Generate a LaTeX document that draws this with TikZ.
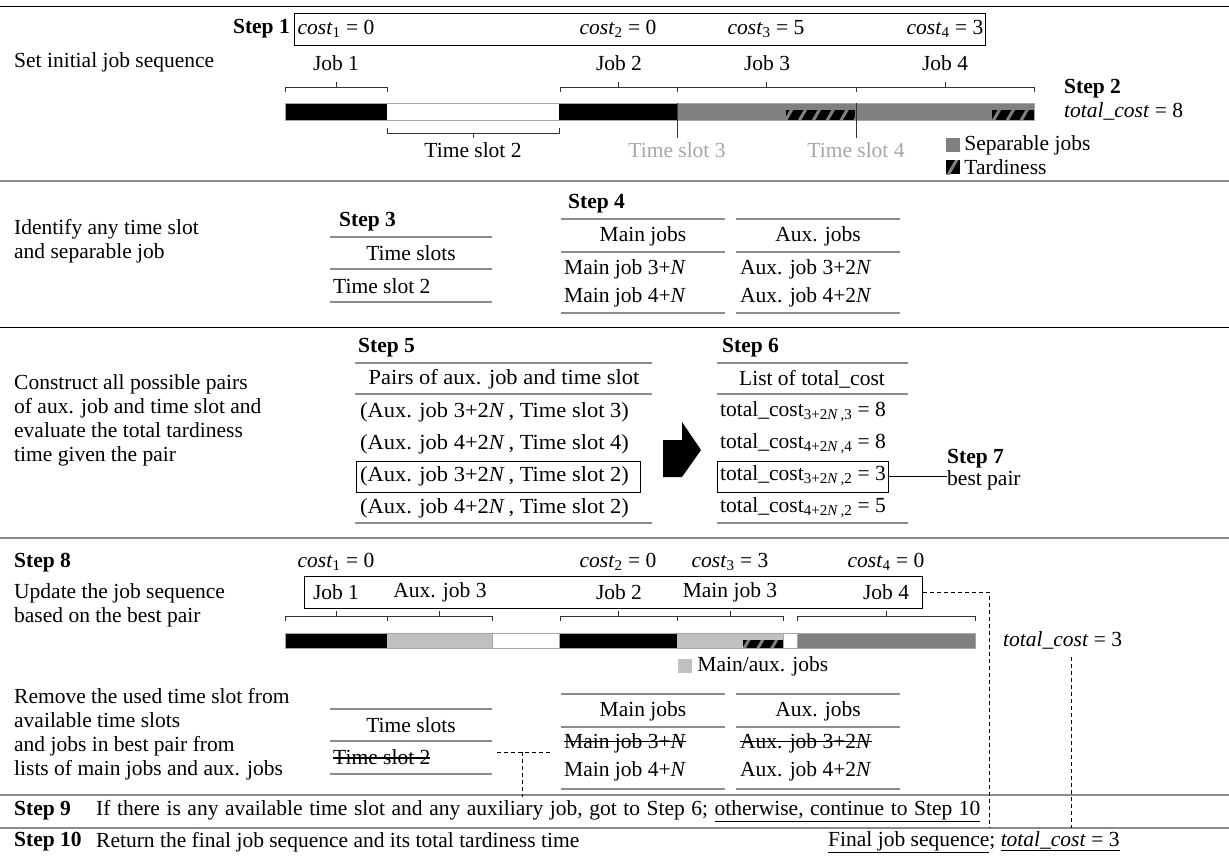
\documentclass[tikz,border=0pt]{standalone}
\usepackage{fontspec}
\setmainfont{Liberation Serif}
\newfontfamily\widefont[FakeStretch=1.045]{Liberation Serif}
\usetikzlibrary{positioning,patterns.meta}

\definecolor{sepgray}{HTML}{808080}
\definecolor{auxgray}{HTML}{C0C0C0}
\definecolor{slotgray}{HTML}{A6A6A6}
\definecolor{rulegray}{HTML}{8C8C8C}

\newcommand{\figsize}{\fontsize{21.5}{24}\selectfont}
\newsavebox{\struckbox}
\newcommand{\struck}[1]{\sbox{\struckbox}{#1}\rlap{#1}\rule[0.27em]{\wd\struckbox}{1.5pt}}

\tikzset{
  txt/.style={anchor=west, inner sep=0pt},
  lbl/.style={inner sep=0pt},
  widetxt/.style={inner sep=0pt, font=\figsize\widefont},
  steplbl/.style={anchor=west, inner sep=0pt, font=\figsize\bfseries},
  tabrule/.style={draw=rulegray, line width=1.6pt},
  seprule/.style={draw=rulegray, line width=1.6pt},
  seg/.style={draw=gray!70, line width=0.6pt},
  hatch/.style={preaction={fill=black}, pattern={Lines[angle=60,distance=12pt,line width=3pt]}, pattern color=sepgray},
  linkline/.style={dash pattern=on 4pt off 3pt, line width=0.8pt},
  jobbox/.style={draw, line width=0.8pt, inner sep=0pt},
}

\begin{document}
\begin{tikzpicture}[x=1pt, y=-1pt, font=\figsize, >=stealth]
\useasboundingbox (0,0) rectangle (1229,857);

\draw[line width=0.8pt] (0,6) -- (1229,6);
\draw[line width=0.8pt] (0,327) -- (1229,327);
\foreach \y in {181,538,795,828} \draw[seprule] (0,\y) -- (1229,\y);

\node[txt] (init) at (14,62) {Set initial job sequence};
\node[steplbl, anchor=east] (step1) at (290,29) {Step 1};
\node[jobbox, anchor=north west, minimum width=691pt, minimum height=32pt] (seq1) at (294,13) {};
\foreach \n/\x/\v in {1/336/0,2/618/0,3/766/5,4/945/3}
  \node[lbl] (cost\n) at (\x,29) {\textit{cost}\textsubscript{\n} = \v};
\foreach \n/\x in {1/336,2/619,3/767,4/945}
  \node[lbl] (job\n) at (\x,63) {Job \n};
\foreach \a/\b in {285/387,560/677,677/856,856/1034}
  \draw[gray!40!black] (\a,92) -- (\a,87) -- (\b,87) -- (\b,92) ({(\a+\b)/2},87) -- ({(\a+\b)/2},82);
\foreach \a/\b/\c in {285/387/black,387/559/white,559/677/black,677/1034/sepgray}
  \fill[\c] (\a,103) rectangle (\b,120);
\fill[hatch] (786,110) rectangle (855,120);
\fill[hatch] (992,110) rectangle (1034,120);
\draw[seg] (285,103) rectangle (1034,120);
\draw[gray!40!black] (677,103) -- (677,138) (856,103) -- (856,138);
\draw[gray!40!black] (387,128) -- (387,133) -- (559,133) -- (559,128) (473,133) -- (473,138);
\node[lbl] (slot2) at (473,150) {Time slot 2};
\node[lbl, text=slotgray] (slot3) at (677,150) {Time slot 3};
\node[lbl, text=slotgray] (slot4) at (856,150) {Time slot 4};
\node[fill=sepgray, minimum size=14pt, inner sep=0pt] (legsep) at (953,145) {};
\node[txt, right=4pt of legsep] (legseptxt) {Separable jobs};
\node[hatch, minimum size=14pt, inner sep=0pt] (legtard) at (953,167) {};
\node[txt, right=4pt of legtard] (legtardtxt) {Tardiness};
\node[steplbl] (step2) at (1064,89) {Step 2};
\node[txt] (total8) at (1064,111) {\textit{total\_cost} = 8};

\node[txt, align=left] (ident) at (14,241) {Identify any time slot\\and separable job};
\node[steplbl] (step3) at (339,222) {Step 3};
\foreach \y in {237,269,302} \draw[tabrule] (330,\y) -- (492,\y);
\node[lbl] (slots) at (411,253) {Time slots};
\node[txt] (freeslot) at (333,286) {Time slot 2};
\node[steplbl] (step4) at (568,204) {Step 4};
\foreach \y in {219,252,313} {
  \draw[tabrule] (561,\y) -- (725,\y);
  \draw[tabrule] (736,\y) -- (900,\y);
}
\node[lbl] (mainhead) at (643,236) {Main jobs};
\node[lbl] (auxhead) at (818,236) {Aux. jobs};
\foreach \n/\y in {3/269,4/297} {
  \node[txt] (main\n) at (564,\y) {Main job \n+\textit{N}};
  \node[txt] (aux\n) at (740,\y) {Aux. job \n+2\textit{N}};
}

\node[txt, align=left] (constr) at (14,420) {Construct all possible pairs\\of aux. job and time slot and\\evaluate the total tardiness\\time given the pair};
\node[steplbl] (step5) at (358,348) {Step 5};
\foreach \y in {363,394,523} \draw[tabrule] (355,\y) -- (652,\y);
\node[widetxt] (pairhead) at (504,379) {Pairs of aux. job and time slot};
\foreach \n/\a/\b/\y in {1/3/3/412,2/4/4/444,3/3/2/476,4/4/2/508}
  \node[widetxt, anchor=west] (pair\n) at (360,\y) {(Aux. job \a+2\textit{N}\,, Time slot \b)};
\node[jobbox, anchor=west, minimum width=284pt, minimum height=31pt] (best5) at (356,476.5) {};
\fill (663,440) -- (682,440) -- (682,422) -- (701,450) -- (682,477) -- (663,477) -- cycle;
\node[steplbl] (step6) at (722,348) {Step 6};
\foreach \y in {363,394,523} \draw[tabrule] (717,\y) -- (908,\y);
\node[lbl] (costhead) at (812,379) {List of total\_cost};
\foreach \n/\a/\b/\v/\y in {1/3/3/8/412,2/4/4/8/444,3/3/2/3/476,4/4/2/5/508}
  \node[txt] (tot\n) at (720,\y) {total\_cost\textsubscript{\a+2\textit{N}\,,\b} = \v};
\node[jobbox, anchor=west, minimum width=171pt, minimum height=31pt] (best6) at (717,476.5) {};
\node[steplbl] (step7) at (947,459) {Step 7};
\node[txt] (bestpair) at (947,480) {best pair};
\draw[line width=0.8pt] (best6.east) -- (best6.east -| bestpair.west);

\node[steplbl] (step8) at (14,563) {Step 8};
\node[txt, align=left] (update) at (14,605) {Update the job sequence\\based on the best pair};
\foreach \n/\x/\v in {1/336/0,2/618/0,3/730/3,4/886/0}
  \node[lbl] (newcost\n) at (\x,562) {\textit{cost}\textsubscript{\n} = \v};
\node[jobbox, anchor=north west, minimum width=618pt, minimum height=32pt] (seq8) at (304,576) {};
\foreach \n/\x/\t in {1/336/Job 1,2/440/Aux. job 3,3/619/Job 2,4/730/Main job 3,5/886/Job 4}
  \node[lbl] (newjob\n) at (\x,592) {\t};
\foreach \a/\b in {285/387,387/492,560/677,677/783,797/975}
  \draw[gray!40!black] (\a,621) -- (\a,616) -- (\b,616) -- (\b,621) ({(\a+\b)/2},616) -- ({(\a+\b)/2},611);
\foreach \a/\b/\c in {285/387/black,387/492/auxgray,492/559/white,559/677/black,677/783/auxgray,783/797/white,797/975/sepgray}
  \fill[\c] (\a,633) rectangle (\b,648);
\fill[hatch] (743,640) rectangle (783,648);
\draw[seg] (285,633) rectangle (975,648);
\draw[seg] (492,633) -- (492,648) (559,633) -- (559,648) (783,633) -- (783,648) (797,633) -- (797,648);
\node[fill=auxgray, minimum size=14pt, inner sep=0pt] (legaux) at (685,666) {};
\node[txt, right=5pt of legaux] (legauxtxt) {Main/aux. jobs};
\node[txt] (total3) at (1003,640) {\textit{total\_cost} = 3};

\node[txt, align=left] (remove) at (14,734) {Remove the used time slot from\\available time slots\\and jobs in best pair from\\lists of main jobs and aux. jobs};
\foreach \y in {709,741,774} \draw[tabrule] (330,\y) -- (492,\y);
\node[lbl] (slotsleft) at (411,725) {Time slots};
\node[txt] (usedslot) at (333,757) {\struck{Time slot 2}};
\foreach \y in {694,727,789} {
  \draw[tabrule] (561,\y) -- (725,\y);
  \draw[tabrule] (736,\y) -- (900,\y);
}
\node[lbl] (mainleft) at (643,711) {Main jobs};
\node[lbl] (auxleft) at (818,711) {Aux. jobs};
\node[txt] (usedmain) at (564,743) {\struck{Main job 3+\textit{N}}};
\node[txt] (usedaux) at (740,743) {\struck{Aux. job 3+2\textit{N}}};
\node[txt] (restmain) at (564,771) {Main job 4+\textit{N}};
\node[txt] (restaux) at (740,771) {Aux. job 4+2\textit{N}};
\coordinate (linkA) at (497,752);
\coordinate (linkB) at (550,752);
\coordinate (linkC) at (522,752);
\coordinate (linkD) at (522,797);
\draw[linkline] (linkA) -- (linkB) (linkC) -- (linkD);

\node[steplbl] (step9) at (14,811) {Step 9};
\node[txt] (loop) at (96,811) {\spaceskip=0.305em plus 0.1em minus 0.05em If there is any available time slot and any auxiliary job, got to Step 6; \underline{otherwise, continue to Step 10}};
\node[steplbl] (step10) at (14,842) {Step 10};
\node[txt] (ret) at (96,842) {Return the final job sequence and its total tardiness time};
\node[txt] (final) at (828,842) {\underline{Final job sequence}; \underline{\textit{total\_cost} = 3}};
\coordinate (finA) at (989,828);
\coordinate (finB) at (1071,828);
\draw[linkline] (seq8.east) -| (finA);
\draw[linkline] ([yshift=-8pt]total3.south -| finB) -- (finB);
\end{tikzpicture}
\end{document}
